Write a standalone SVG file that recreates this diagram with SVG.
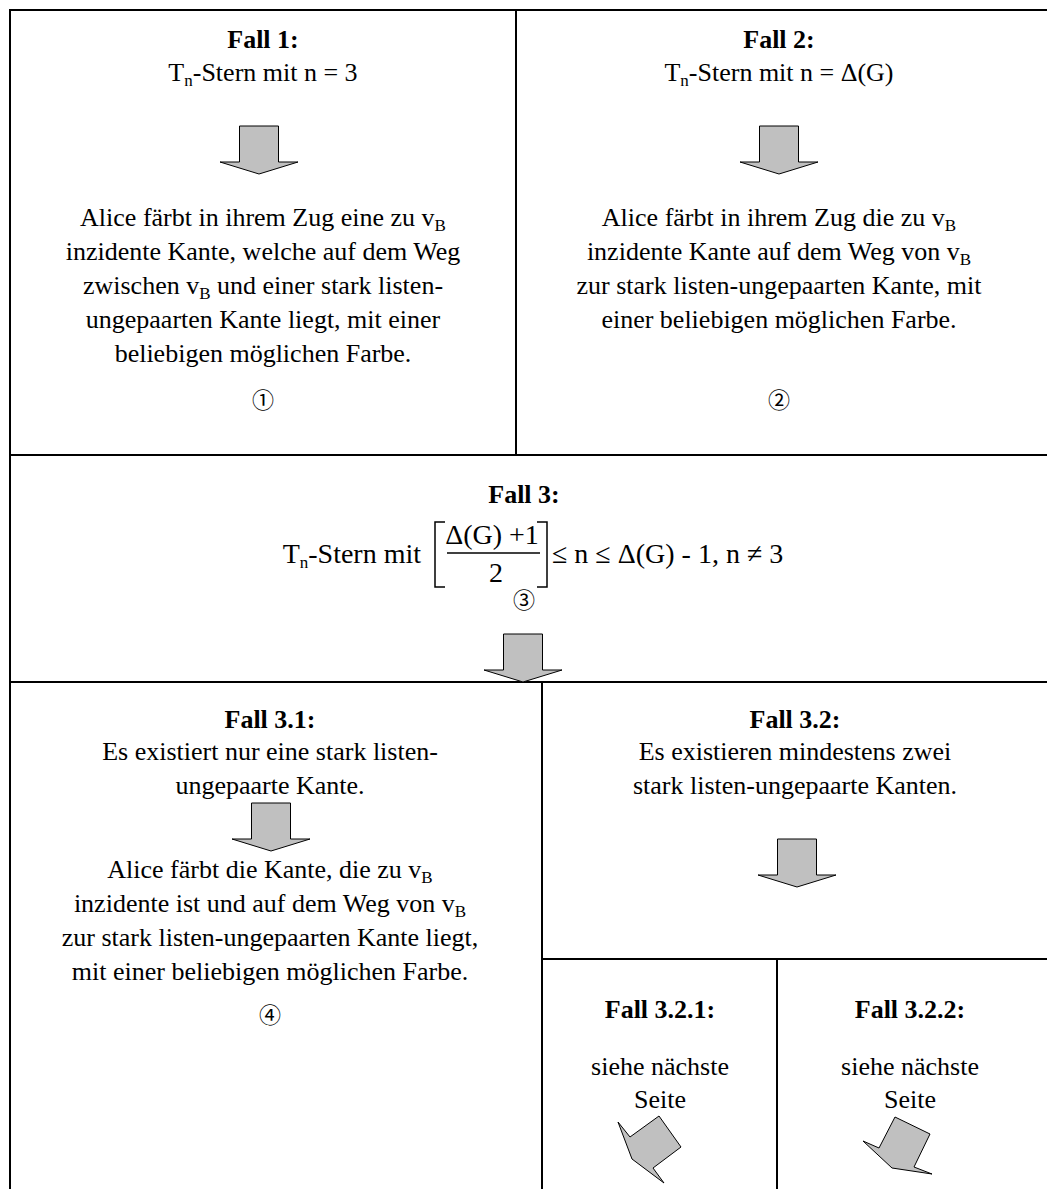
<svg xmlns="http://www.w3.org/2000/svg" width="1047" height="1189" viewBox="0 0 1047 1189">
<style>
.t{font-family:"Liberation Serif","Times New Roman",serif;font-size:26px;fill:#000;text-anchor:middle}
.f{font-size:28px}
.b{font-weight:bold}
.s{font-size:17px}
.c{font-family:"Noto Sans CJK JP","DejaVu Sans",sans-serif;font-size:22px;fill:#000;text-anchor:middle}
.ln{stroke:#000;stroke-width:2;fill:none}
.ar{fill:#c0c0c0;stroke:#000;stroke-width:1}
.br{stroke:#000;stroke-width:1.5;fill:none}
</style>
<defs>
<polygon id="down" points="-19.5,0 19.5,0 19.5,36 39,36 0,48 -39,36 -19.5,36"/>
</defs>
<rect width="1047" height="1189" fill="#fff"/>
<g id="connectors">
<line class="ln" x1="9" y1="10" x2="1047" y2="10"/>
<line class="ln" x1="10" y1="10" x2="10" y2="1189"/>
<line class="ln" x1="516" y1="10" x2="516" y2="455"/>
<line class="ln" x1="10" y1="455" x2="1047" y2="455"/>
<line class="ln" x1="10" y1="682" x2="1047" y2="682"/>
<line class="ln" x1="542" y1="682" x2="542" y2="1189"/>
<line class="ln" x1="542" y1="959" x2="1047" y2="959"/>
<line class="ln" x1="777" y1="959" x2="777" y2="1189"/>
</g>
<g id="fall1">
<text class="t b" x="263" y="48">Fall 1:</text>
<text class="t" x="263" y="81">T<tspan class="s" dy="5">n</tspan><tspan dy="-5">-Stern mit n = 3</tspan></text>
<use href="#down" class="ar" x="259" y="126"/>
<text class="t" x="263" y="226">Alice färbt in ihrem Zug eine zu v<tspan class="s" dy="5">B</tspan></text>
<text class="t" x="263" y="260">inzidente Kante, welche auf dem Weg</text>
<text class="t" x="263" y="294">zwischen v<tspan class="s" dy="5">B</tspan><tspan dy="-5"> und einer stark listen-</tspan></text>
<text class="t" x="263" y="328">ungepaarten Kante liegt, mit einer</text>
<text class="t" x="263" y="362">beliebigen möglichen Farbe.</text>
<text class="c" x="263" y="408">①</text>
</g>
<g id="fall2">
<text class="t b" x="779" y="48">Fall 2:</text>
<text class="t" x="779" y="81">T<tspan class="s" dy="5">n</tspan><tspan dy="-5">-Stern mit n = Δ(G)</tspan></text>
<use href="#down" class="ar" x="779" y="126"/>
<text class="t" x="779" y="226">Alice färbt in ihrem Zug die zu v<tspan class="s" dy="5">B</tspan></text>
<text class="t" x="779" y="260">inzidente Kante auf dem Weg von v<tspan class="s" dy="5">B</tspan></text>
<text class="t" x="779" y="294">zur stark listen-ungepaarten Kante, mit</text>
<text class="t" x="779" y="328">einer beliebigen möglichen Farbe.</text>
<text class="c" x="779" y="408">②</text>
</g>
<g id="fall3">
<text class="t b" x="524" y="503">Fall 3:</text>
<text class="t f" x="421" y="563" style="text-anchor:end">T<tspan class="s" dy="5">n</tspan><tspan dy="-5">-Stern mit</tspan></text>
<path class="br" d="M445,522 H435 V587 H445"/>
<text class="t f" x="492" y="544">Δ(G) +1</text>
<line x1="447" y1="553" x2="540" y2="553" stroke="#000" stroke-width="1.5"/>
<text class="t f" x="496" y="582">2</text>
<path class="br" d="M537,522 H547 V587 H537"/>
<text class="t f" x="552" y="563" style="text-anchor:start">≤ n ≤ Δ(G) - 1, n ≠ 3</text>
<text class="c" x="524" y="608">③</text>
<use href="#down" class="ar" x="523" y="634"/>
</g>
<g id="fall3_1">
<text class="t b" x="270" y="728">Fall 3.1:</text>
<text class="t" x="270" y="760">Es existiert nur eine stark listen-</text>
<text class="t" x="270" y="794">ungepaarte Kante.</text>
<use href="#down" class="ar" x="271" y="803"/>
<text class="t" x="270" y="878">Alice färbt die Kante, die zu v<tspan class="s" dy="5">B</tspan></text>
<text class="t" x="270" y="912">inzidente ist und auf dem Weg von v<tspan class="s" dy="5">B</tspan></text>
<text class="t" x="270" y="946">zur stark listen-ungepaarten Kante liegt,</text>
<text class="t" x="270" y="980">mit einer beliebigen möglichen Farbe.</text>
<text class="c" x="270" y="1023">④</text>
</g>
<g id="fall3_2">
<text class="t b" x="795" y="728">Fall 3.2:</text>
<text class="t" x="795" y="760">Es existieren mindestens zwei</text>
<text class="t" x="795" y="794">stark listen-ungepaarte Kanten.</text>
<use href="#down" class="ar" x="797" y="839"/>
</g>
<g id="fall3_2_1">
<text class="t b" x="660" y="1018">Fall 3.2.1:</text>
<text class="t" x="660" y="1075">siehe nächste</text>
<text class="t" x="660" y="1108">Seite</text>
<polygon class="ar" points="659,1116 681,1147 653,1168 664,1183 632,1159 618,1122 630,1137"/>
</g>
<g id="fall3_2_2">
<text class="t b" x="910" y="1018">Fall 3.2.2:</text>
<text class="t" x="910" y="1075">siehe nächste</text>
<text class="t" x="910" y="1108">Seite</text>
<polygon class="ar" points="895,1117 930,1134 914,1167 932,1174 892,1168 863,1141 879,1148"/>
</g>
</svg>
